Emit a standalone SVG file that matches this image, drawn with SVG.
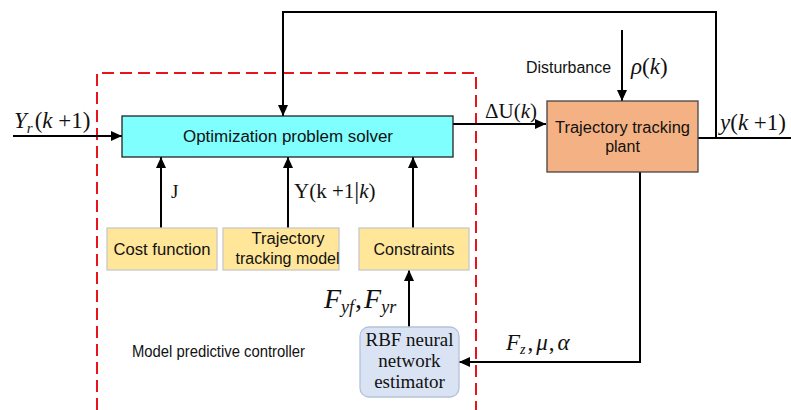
<svg xmlns="http://www.w3.org/2000/svg" width="791" height="410" viewBox="0 0 791 410">
  <style>
    .wire { fill: none; stroke: #000; stroke-width: 2; }
    .arrow { marker-end: url(#head); }
    .sans { font-family: "Liberation Sans", Arial, sans-serif; fill: #111; }
    .math { font-family: "Liberation Serif", "Times New Roman", serif; fill: #111; }
    .it { font-style: italic; }
    .blk { font-size: 16px; text-anchor: middle; }
    .rbf { font-size: 19px; text-anchor: middle; }
  </style>
  <defs>
    <marker id="head" markerUnits="userSpaceOnUse" markerWidth="12" markerHeight="10" refX="11" refY="5" orient="auto">
      <path d="M0,0 L11,5 L0,10 Z" fill="#000"/>
    </marker>
  </defs>

  <rect width="791" height="410" fill="#fff"/>

  <!-- controller boundary -->
  <g id="mpc-boundary">
    <polyline points="97,410 97,73 476,73 476,410" fill="none" stroke="#e8141b" stroke-width="2" stroke-dasharray="12,6"/>
    <text class="sans" x="132" y="357" font-size="16" textLength="173" lengthAdjust="spacingAndGlyphs">Model predictive controller</text>
  </g>

  <!-- connectors -->
  <g id="connectors">
    <line class="wire arrow" x1="13" y1="136" x2="122" y2="136"/>
    <polyline class="wire arrow" points="716,138 716,12 283,12 283,116"/>
    <line class="wire" x1="698" y1="138" x2="791" y2="138"/>
    <line class="wire arrow" x1="622" y1="30" x2="622" y2="101"/>
    <line class="wire arrow" x1="453" y1="124" x2="546" y2="124"/>
    <line class="wire arrow" x1="161" y1="228" x2="161" y2="157"/>
    <line class="wire arrow" x1="288" y1="228" x2="288" y2="157"/>
    <line class="wire arrow" x1="413" y1="228" x2="413" y2="157"/>
    <line class="wire arrow" x1="409" y1="327" x2="409" y2="270"/>
    <polyline class="wire arrow" points="640,172 640,362 459,362"/>
  </g>

  <!-- connector labels -->
  <g id="labels">
    <text class="math it" x="14" y="128" font-size="23">Y<tspan font-size="15" dy="5">r</tspan><tspan font-style="normal" dy="-5" dx="2">(</tspan>k<tspan font-style="normal"> +1)</tspan></text>
    <text class="math" x="485" y="118" font-size="21">ΔU(<tspan font-style="italic">k</tspan>)</text>
    <text class="math it" x="720" y="130" font-size="23">y<tspan font-style="normal">(</tspan>k<tspan font-style="normal"> +1)</tspan></text>
    <text class="sans" x="526" y="73" font-size="16" textLength="85" lengthAdjust="spacingAndGlyphs">Disturbance</text>
    <text class="math it" x="631" y="74" font-size="23">ρ<tspan font-style="normal">(</tspan>k<tspan font-style="normal">)</tspan></text>
    <text class="math" x="171" y="198" font-size="19">J</text>
    <text class="math" x="294" y="198" font-size="21">Y(k +1<tspan font-size="25" dy="1">|</tspan><tspan font-style="italic" dy="-1">k</tspan>)</text>
    <text class="math it" x="324" y="308" font-size="28">F<tspan font-size="18" dy="5">yf</tspan><tspan font-style="normal" dy="-5" dx="1">,</tspan><tspan dx="2">F</tspan><tspan font-size="18" dy="5">yr</tspan></text>
    <text class="math it" x="506" y="350" font-size="23">F<tspan font-size="14" dy="4">z</tspan><tspan font-style="normal" dy="-4" dx="2">,</tspan><tspan dx="3">μ</tspan><tspan font-style="normal" dx="1">,</tspan><tspan dx="3">α</tspan></text>
  </g>

  <!-- blocks -->
  <g id="optimization-solver">
    <rect x="122" y="116" width="331" height="41" fill="#80ffff" stroke="#222" stroke-width="1.3"/>
    <text class="sans blk" x="288" y="142" textLength="210" lengthAdjust="spacingAndGlyphs">Optimization problem solver</text>
  </g>

  <g id="plant">
    <rect x="547" y="101" width="151" height="71" fill="#f4b183" stroke="#444" stroke-width="1.3"/>
    <text class="sans blk" x="622.5" y="133" textLength="135" lengthAdjust="spacingAndGlyphs">Trajectory tracking</text>
    <text class="sans blk" x="622.5" y="152">plant</text>
  </g>

  <g id="cost-function">
    <rect x="107" y="228" width="110" height="42" fill="#ffe699" stroke="#c8c8c8" stroke-width="1.3"/>
    <text class="sans blk" x="162" y="255" textLength="97" lengthAdjust="spacingAndGlyphs">Cost function</text>
  </g>

  <g id="tracking-model">
    <rect x="223" y="228" width="116" height="42" fill="#ffe699" stroke="#c8c8c8" stroke-width="1.3"/>
    <text class="sans blk" x="288" y="244" textLength="73" lengthAdjust="spacingAndGlyphs">Trajectory</text>
    <text class="sans blk" x="287.5" y="264" textLength="104" lengthAdjust="spacingAndGlyphs">tracking model</text>
  </g>

  <g id="constraints">
    <rect x="359" y="228" width="110" height="42" fill="#ffe699" stroke="#c8c8c8" stroke-width="1.3"/>
    <text class="sans blk" x="414" y="255" textLength="81" lengthAdjust="spacingAndGlyphs">Constraints</text>
  </g>

  <g id="rbf-estimator">
    <rect x="360" y="327" width="99" height="70" rx="9" ry="9" fill="#dae3f3" stroke="#b4c3d8" stroke-width="1.3"/>
    <text class="math rbf" x="409.5" y="346" textLength="88" lengthAdjust="spacingAndGlyphs">RBF neural</text>
    <text class="math rbf" x="409.5" y="367">network</text>
    <text class="math rbf" x="409.5" y="388">estimator</text>
  </g>
</svg>
